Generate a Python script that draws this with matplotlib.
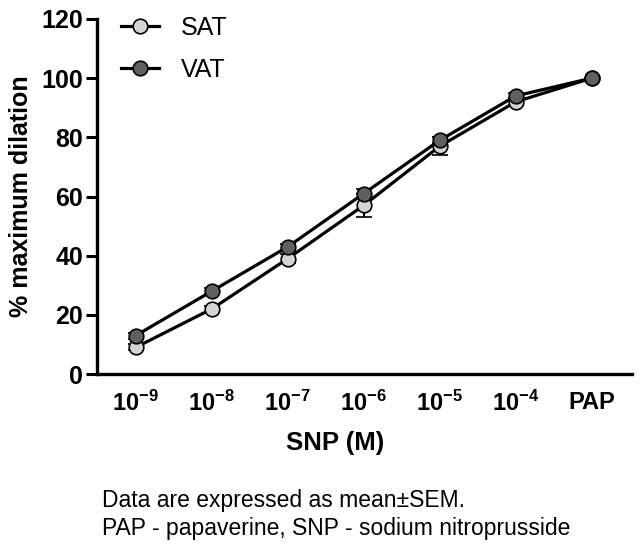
import matplotlib
matplotlib.use("Agg")
import matplotlib.pyplot as plt
import numpy as np

categories = ["10$^{\\mathbf{-9}}$", "10$^{\\mathbf{-8}}$", "10$^{\\mathbf{-7}}$", "10$^{\\mathbf{-6}}$",
              "10$^{\\mathbf{-5}}$", "10$^{\\mathbf{-4}}$", "PAP"]
sat = [9, 22, 39, 57, 77, 92, 100]
sat_sem = [1, 1, 1.5, 4, 3, 1.2, 0]
vat = [13, 28, 43, 61, 79, 94, 100]
vat_sem = [1, 1, 1, 1.5, 1, 1, 0]
yticks = [0, 20, 40, 60, 80, 100, 120]

plt.rcParams['font.family'] = ['Liberation Sans', 'DejaVu Sans']
plt.rcParams['mathtext.fontset'] = 'custom'
plt.rcParams['mathtext.rm'] = 'Liberation Sans'
plt.rcParams['mathtext.it'] = 'Liberation Sans:italic'
plt.rcParams['mathtext.bf'] = 'Liberation Sans:bold'

fig = plt.figure(figsize=(6.41, 5.52), dpi=100)
ax = fig.add_axes([97/641, 1-374/552, 535/641, 355/552])
x = np.arange(len(categories))

ax.errorbar(x, sat, yerr=sat_sem, color='black', lw=2.3, marker='o', ms=10.5,
            mfc='#d4d4d4', mec='black', mew=1.2, capsize=5.5, elinewidth=1.5, capthick=1.5,
            label='SAT', clip_on=False, zorder=3)
ax.errorbar(x, vat, yerr=vat_sem, color='black', lw=2.3, marker='o', ms=10.5,
            mfc='#606060', mec='black', mew=1.2, capsize=5.5, elinewidth=1.5, capthick=1.5,
            label='VAT', clip_on=False, zorder=4)

ax.set_xlim(-0.51, 6.53)
ax.set_ylim(0, 120)
ax.set_yticks(yticks)
ax.set_xticks(x)
ax.set_xticklabels(categories, fontsize=17, fontweight='bold')
ax.tick_params(axis='x', length=0, pad=12)
ax.tick_params(axis='y', length=8, width=2.2, labelsize=18, pad=2)
for lbl in ax.get_yticklabels():
    lbl.set_fontweight('bold')
for s in ['top', 'right']:
    ax.spines[s].set_visible(False)
for s in ['left', 'bottom']:
    ax.spines[s].set_linewidth(2.4)

ax.set_ylabel('% maximum dilation', fontsize=18, fontweight='bold', labelpad=6)
ax.set_xlabel('SNP (M)', fontsize=18.5, fontweight='bold')
ax.xaxis.set_label_coords(0.445, -0.16)

handles, labels = ax.get_legend_handles_labels()
handles = [h[0] for h in handles]
leg = ax.legend(handles, labels, loc='upper left', bbox_to_anchor=(0.045, 1.008), frameon=False,
                fontsize=18, handlelength=1.5, labelspacing=0.7, handletextpad=0.9,
                borderaxespad=0, borderpad=0)

fig.text(102/641, 1-507/552, 'Data are expressed as mean\u00b1SEM.', fontsize=16.5, va='baseline')
fig.text(102/641, 1-535/552, 'PAP - papaverine, SNP - sodium nitroprusside', fontsize=16.5, va='baseline')

fig.savefig('out.png', dpi=100)
